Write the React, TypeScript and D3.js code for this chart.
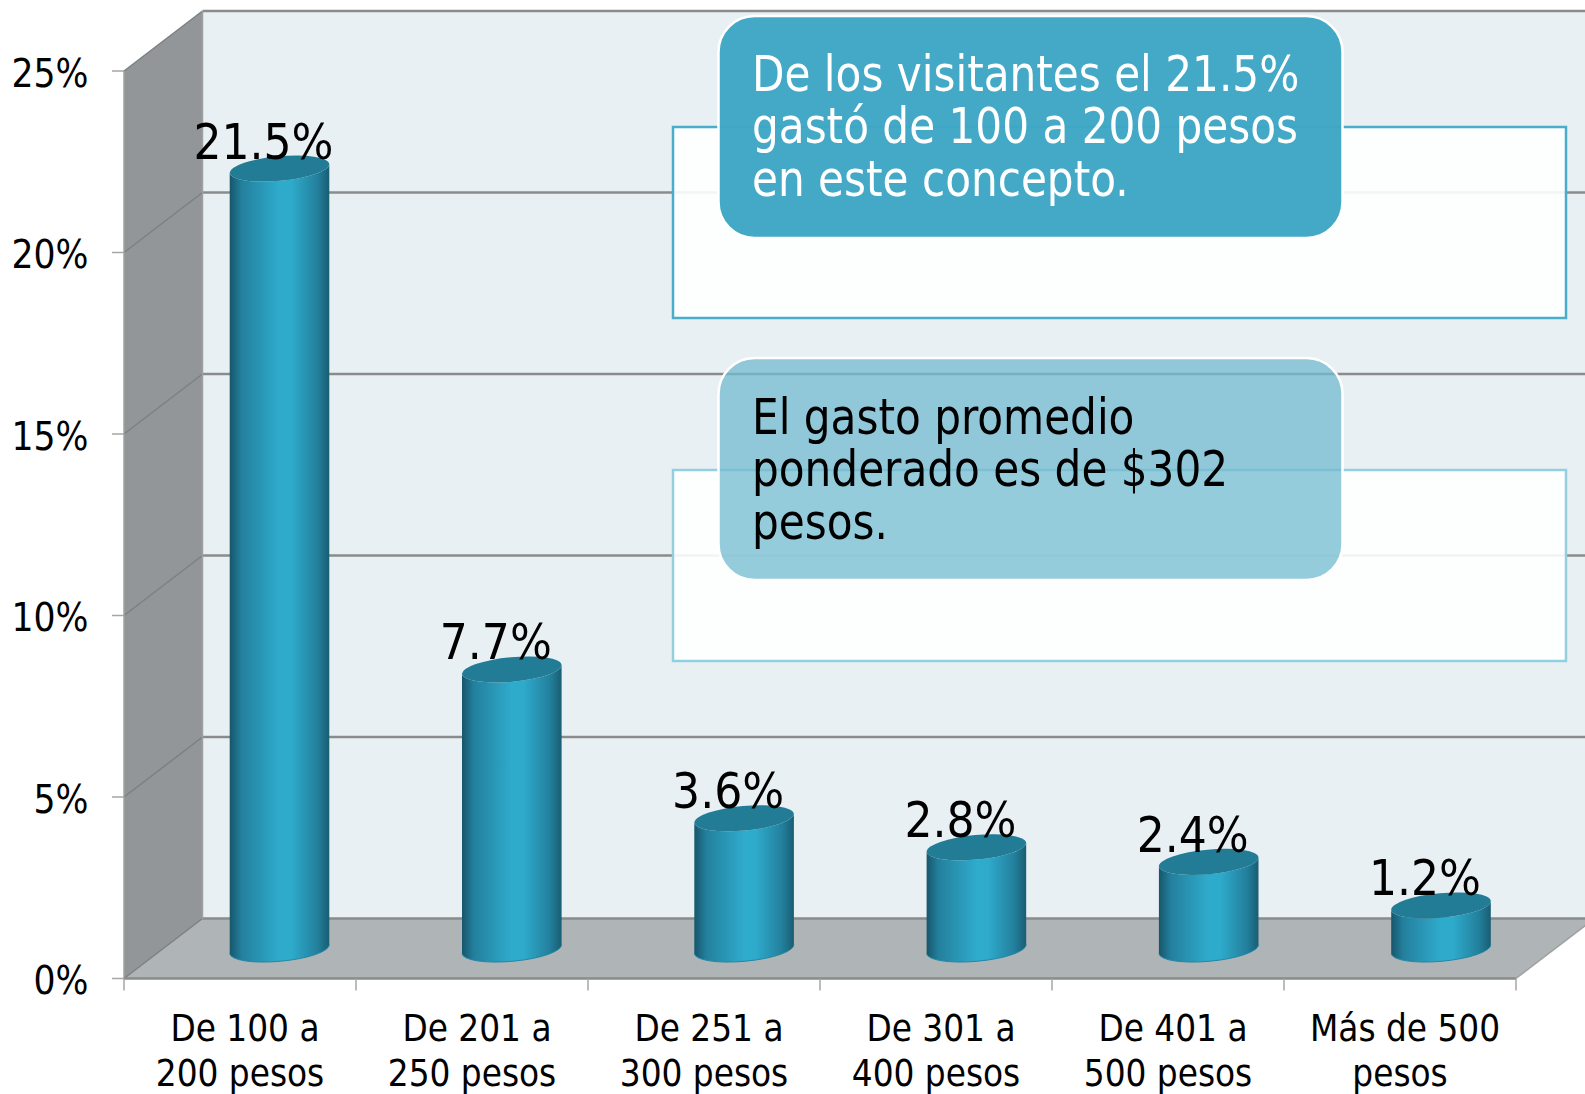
import React from "react";
import * as d3 from "d3";

const categories = [
  ["De 100 a", "200 pesos"],
  ["De 201 a", "250 pesos"],
  ["De 251 a", "300 pesos"],
  ["De 301 a", "400 pesos"],
  ["De 401 a", "500 pesos"],
  ["Más de 500", "pesos"],
];
const values = [21.5, 7.7, 3.6, 2.8, 2.4, 1.2];
const valueLabels = ["21.5%", "7.7%", "3.6%", "2.8%", "2.4%", "1.2%"];
const yTicks = [0, 5, 10, 15, 20, 25];
const callout1 = ["De los visitantes el 21.5%", "gastó de 100 a 200 pesos", "en este concepto."];
const callout2 = ["El gasto promedio", "ponderado es de $302", "pesos."];

const FONT = "'DejaVu Sans Condensed','DejaVu Sans',sans-serif";
const W = 1585, H = 1094;
const yFront = d3.scaleLinear().domain([0, 25]).range([978.5, 71]);
const yBack = d3.scaleLinear().domain([0, 25]).range([918.5, 11]);
const yBar = d3.scaleLinear().domain([0, 25]).range([949, 41.5]);
const xBand = d3.scaleBand<number>().domain(d3.range(6)).range([124, 1516]);
const xBar = d3.scaleLinear().domain([0, 5]).range([279.5, 1441]);
const DEPTH = 78.5;
const RX = 50, RY = 12.3, ROT = -5.2;

function Cylinder({ cx, top, base }: { cx: number; top: number; base: number }) {
  const a = (ROT * Math.PI) / 180;
  const dx = Math.cos(a) * RX, dy = Math.sin(a) * RX;
  const body = `M${cx - dx},${top - dy} A${RX},${RY} ${ROT} 0 0 ${cx + dx},${top + dy}
    L${cx + dx},${base + dy} A${RX},${RY} ${ROT} 0 1 ${cx - dx},${base - dy} Z`;
  return (
    <g>
      <path d={body} fill="url(#cyl)" />
      <path d={`M${cx + dx},${base + dy} A${RX},${RY} ${ROT} 0 1 ${cx - dx},${base - dy}`} fill="none" stroke="#1f87a6" strokeWidth={1} />
      <ellipse cx={cx} cy={top} rx={RX} ry={RY} transform={`rotate(${ROT} ${cx} ${top})`} fill="#227c96" />
    </g>
  );
}

export default function App() {
  const x0 = xBand(0)!, xEnd = xBand.range()[1];
  const bx = x0 + DEPTH;
  const grid = "#8a8c8c";
  return (
    <svg width={W} height={H} style={{ position: "absolute", left: 0, top: 0 }} fontFamily={FONT}>
      <defs>
        <linearGradient id="cyl" x1="0" x2="1" y1="0" y2="0">
          <stop offset="0" stopColor="#17566b" />
          <stop offset="0.12" stopColor="#23809d" />
          <stop offset="0.5" stopColor="#2fabcc" />
          <stop offset="0.62" stopColor="#2eaacb" />
          <stop offset="0.88" stopColor="#23809d" />
          <stop offset="1" stopColor="#195d72" />
        </linearGradient>
      </defs>
      <rect x={bx} y={yBack(25)} width={W - bx} height={yBack(0) - yBack(25)} fill="#e9f0f4" />
      <polygon points={`${x0},${yFront(25)} ${bx},${yBack(25)} ${bx},${yBack(0)} ${x0},${yFront(0)}`} fill="#929698" />
      <polygon points={`${x0},${yFront(0)} ${bx},${yBack(0)} ${xEnd + DEPTH},${yBack(0)} ${xEnd},${yFront(0)}`} fill="#afb4b6" />
      {yTicks.map((t) => (
        <g key={t}>
          <line x1={bx} x2={W} y1={yBack(t)} y2={yBack(t)} stroke={grid} strokeWidth={2.5} />
          <line x1={x0} x2={bx} y1={yFront(t)} y2={yBack(t)} stroke="#7c8082" strokeWidth={1.5} />
          <line x1={112} x2={x0} y1={yFront(t)} y2={yFront(t)} stroke="#a6a6a6" strokeWidth={1.5} />
          <text x={88.5} y={yFront(t) + 15.7} textAnchor="end" fontSize={38.5} fill="#000">{t}%</text>
        </g>
      ))}
      <line x1={x0} x2={x0} y1={yFront(25)} y2={yFront(0)} stroke="#a0a0a0" strokeWidth={1.5} />
      <line x1={bx} x2={bx} y1={yBack(25)} y2={yBack(0)} stroke="#a0a0a0" strokeWidth={1.5} />
      <line x1={x0} x2={xEnd} y1={yFront(0)} y2={yFront(0)} stroke="#8a8a8a" strokeWidth={2.5} />
      <line x1={xEnd} x2={xEnd + DEPTH} y1={yFront(0)} y2={yBack(0)} stroke="#a0a0a0" strokeWidth={1.5} />
      {d3.range(7).map((i) => {
        const x = x0 + xBand.step() * i;
        return <line key={i} x1={x} x2={x} y1={yFront(0)} y2={yFront(0) + 12} stroke="#a6a6a6" strokeWidth={1.5} />;
      })}
      {values.map((v, i) => {
        const cx = xBar(i);
        return (
          <g key={i}>
            <Cylinder cx={cx} top={yBar(v)} base={yBar(0)} />
            <text x={cx - 16} y={yBar(v) - 10} textAnchor="middle" fontSize={49} fill="#000">{valueLabels[i]}</text>
          </g>
        );
      })}
      {categories.map((lines, i) => (
        <text key={i} textAnchor="middle" fontSize={36.5} fill="#000">
          <tspan x={xBand(i)! + 121} y={1041}>{lines[0]}</tspan>
          <tspan x={xBand(i)! + 116} y={1085.5}>{lines[1]}</tspan>
        </text>
      ))}
      <rect x={673} y={127} width={893} height={191} fill="#fff" fillOpacity={0.9} stroke="#4aadc9" strokeWidth={2.5} />
      <rect x={673} y={470} width={893} height={191} fill="#fff" fillOpacity={0.9} stroke="#93cfdf" strokeWidth={2.5} />
      <rect x={718.5} y={16} width={624} height={222} rx={36} fill="#3da6c4" fillOpacity={0.97} stroke="#fff" strokeWidth={2.5} />
      <rect x={718.5} y={358} width={624} height={222} rx={36} fill="#72bbd0" fillOpacity={0.75} stroke="#fff" strokeWidth={2.5} />
      <g transform="translate(752,0) scale(0.938,1)">
        <text fontSize={50} fill="#fff">
          {callout1.map((l, j) => <tspan key={j} x={0} y={91 + j * 52.5}>{l}</tspan>)}
        </text>
        <text fontSize={50} fill="#000">
          {callout2.map((l, j) => <tspan key={j} x={0} y={434 + j * 52.5}>{l}</tspan>)}
        </text>
      </g>
    </svg>
  );
}
